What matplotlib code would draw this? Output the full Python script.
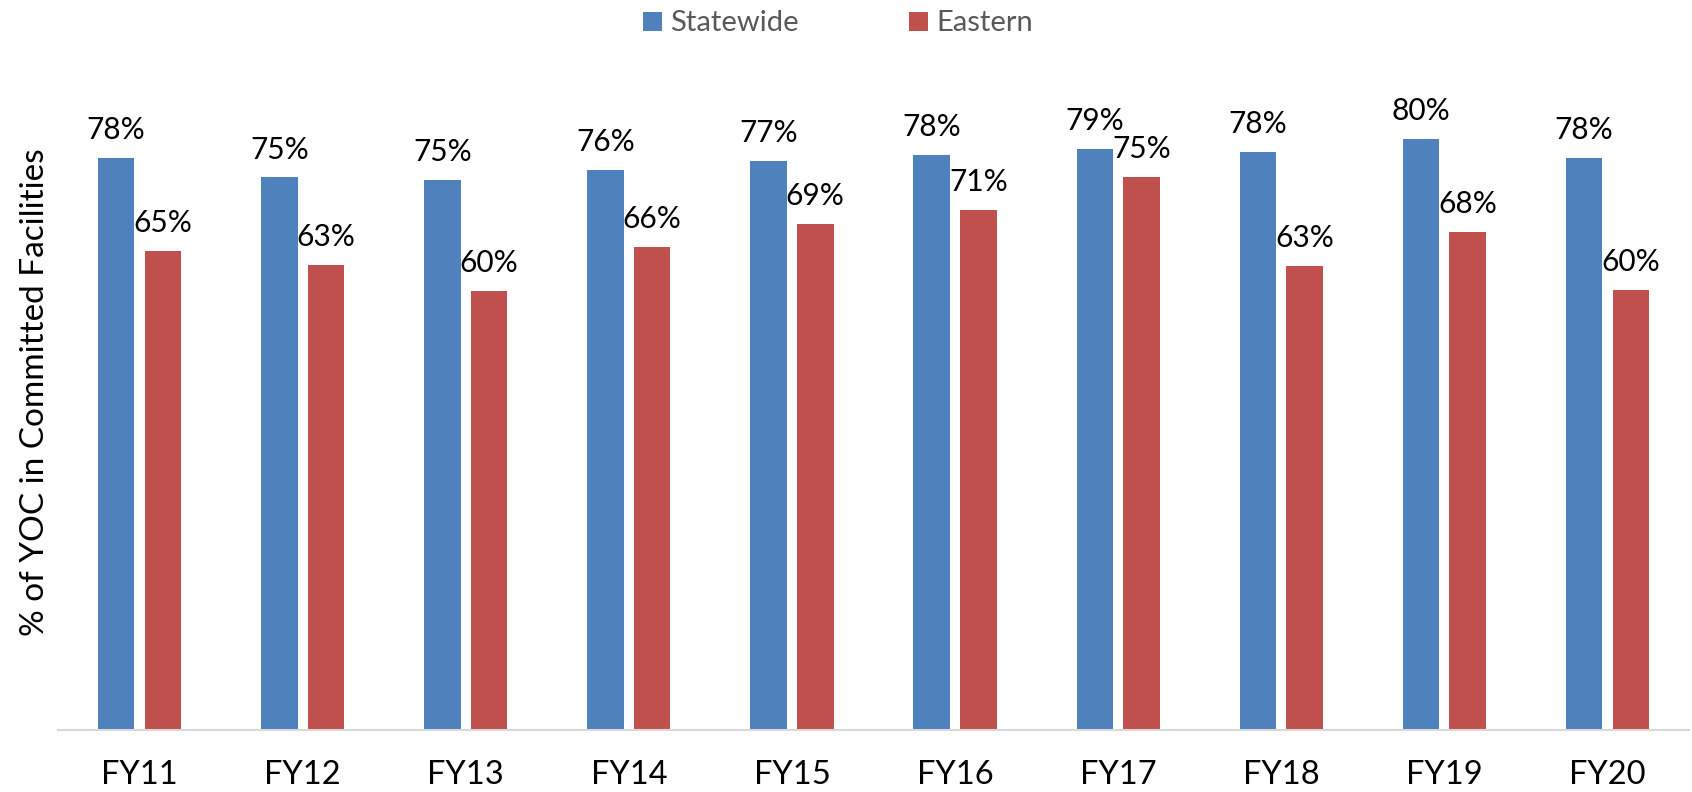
import matplotlib
matplotlib.use("Agg")
import matplotlib.pyplot as plt
import numpy as np

categories = ["FY11", "FY12", "FY13", "FY14", "FY15", "FY16", "FY17", "FY18", "FY19", "FY20"]
statewide = [77.6, 75.0, 74.7, 76.0, 77.2, 78.0, 78.9, 78.4, 80.2, 77.6]
eastern = [65.0, 63.1, 59.6, 65.6, 68.7, 70.6, 75.1, 63.0, 67.6, 59.7]
series_names = ["Statewide", "Eastern"]
colors = ["#4F81BD", "#C0504D"]
ylabel = "% of YOC in Committed Facilities"

plt.rcParams['font.family'] = ['Lato', 'DejaVu Sans']

W, H = 1692, 792
fig = plt.figure(figsize=(W / 100, H / 100), dpi=100)
ax = fig.add_axes([58 / W, (H - 729.5) / H, (1689 - 58) / W, (729.5 - 67) / H])

x = np.arange(len(categories))
bw = 0.224
off = 0.143
for vals, name, c, o in [(statewide, series_names[0], colors[0], -off),
                         (eastern, series_names[1], colors[1], off)]:
    bars = ax.bar(x + o, vals, width=bw, color=c, label=name, zorder=2)
    for b, v in zip(bars, vals):
        ax.annotate(f"{v:.0f}%", (b.get_x() + b.get_width() / 2, b.get_height()),
                    xytext=(0, 10), textcoords="offset points",
                    ha="center", va="bottom", fontsize=21.5, color="black")

ax.set_xlim(-0.5, len(categories) - 0.5)
ax.set_ylim(0, 90)
ax.set_xticks(x)
ax.set_xticklabels(categories, fontsize=23.5)
ax.tick_params(axis="x", length=0, pad=22)
ax.set_yticks([])
for s in ["top", "right", "left"]:
    ax.spines[s].set_visible(False)
ax.spines["bottom"].set_color("#D9D9D9")
ax.spines["bottom"].set_linewidth(1.5)
ax.spines["bottom"].set_zorder(3)

fig.text(35 / W, (H - 392) / H, ylabel, rotation=90, ha="center", va="center", fontsize=24)

leg = fig.legend(loc="upper center", bbox_to_anchor=(838 / W, 1.009), ncol=2, frameon=False,
                 fontsize=21, handlelength=0.63, handleheight=0.63, handletextpad=0.28,
                 columnspacing=3.8, borderpad=0.1)
for t in leg.get_texts():
    t.set_color("#595959")

fig.savefig("out.png", dpi=100)
